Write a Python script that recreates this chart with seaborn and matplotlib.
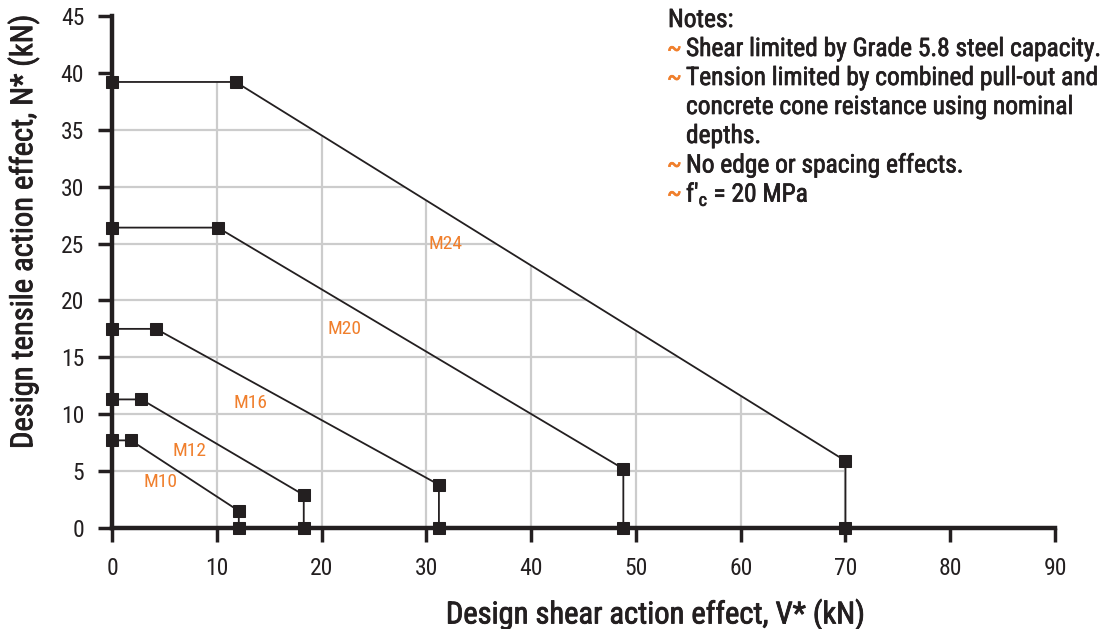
import matplotlib
matplotlib.use("Agg")
import matplotlib.pyplot as plt
import matplotlib.patheffects as pe
import seaborn as sns
import pandas as pd
from matplotlib.patches import Polygon

sns.set_theme(style="white")
FONT = ['Roboto Condensed', 'DejaVu Sans']
plt.rcParams['font.family'] = FONT
plt.rcParams['mathtext.fontset'] = 'custom'
plt.rcParams['mathtext.rm'] = 'Roboto Condensed'

# Data (kN)
sizes = ["M10", "M12", "M16", "M20", "M24"]
v_knee = [1.8, 2.8, 4.2, 10.1, 11.8]       # shear at end of tension plateau
n_plateau = [7.7, 11.3, 17.5, 26.4, 39.2]  # tension capacity
v_max = [12.1, 18.3, 31.2, 48.8, 70.0]     # shear capacity
n_at_vmax = [1.5, 2.9, 3.8, 5.2, 5.9]      # tension at shear capacity
label_x = [4.6, 7.4, 13.2, 22.2, 31.8]
label_y = [4.0, 6.8, 11.0, 17.5, 25.0]

x_ticks = [0, 10, 20, 30, 40, 50, 60, 70, 80, 90]
y_ticks = [0, 5, 10, 15, 20, 25, 30, 35, 40, 45]

notes = [
    ("~", "Shear limited by Grade 5.8 steel capacity."),
    ("~", "Tension limited by combined pull-out and"),
    ("", "concrete cone reistance using nominal"),
    ("", "depths."),
    ("~", "No edge or spacing effects."),
    ("~", r"f'$_\mathregular{c}$ = 20 MPa"),
]

ORANGE = "#F07F2C"
DARK = "#231F20"


def heavy(color, w=0.6):
    return [pe.withStroke(linewidth=w, foreground=color)]


fig = plt.figure(figsize=(11.2, 6.29), dpi=100)
ax = fig.add_axes([0.1, 0.1606, 0.842, 0.814])

rows = []
for s, vk, npl, vm, nv in zip(sizes, v_knee, n_plateau, v_max, n_at_vmax):
    for i, (vx, ny) in enumerate([(0, npl), (vk, npl), (vm, nv), (vm, 0)]):
        rows.append({"size": s, "order": i, "V": vx, "N": ny})
df = pd.DataFrame(rows)

for s in sizes:
    sub = df[df["size"] == s]
    sns.lineplot(data=sub, x="V", y="N", sort=False, estimator=None, ax=ax,
                 color=DARK, linewidth=1.3, marker="s", markersize=8.5,
                 markeredgecolor=DARK, markerfacecolor=DARK, clip_on=False, zorder=5)

for s, lx, ly in zip(sizes, label_x, label_y):
    ax.text(lx, ly, s, color=ORANGE, fontsize=14, ha="center", va="center")

ax.set_xlim(0, 90)
ax.set_ylim(0, 45)
ax.set_xticks(x_ticks)
ax.set_yticks(y_ticks)
ax.tick_params(axis="both", which="major", direction="out", length=10, width=2.5,
               color=DARK, labelsize=17, labelcolor=DARK,
               left=True, bottom=True)
ax.tick_params(axis="y", pad=10)
ax.tick_params(axis="x", pad=11)

# grid clipped to largest envelope
big = df[df["size"] == sizes[-1]]
poly_pts = [(0, 0)] + list(zip(big["V"], big["N"]))
clip = Polygon(poly_pts, closed=True, transform=ax.transData, facecolor="none", edgecolor="none")
ax.add_patch(clip)
ax.grid(True, color="#CCCCCC", linewidth=1.6)
ax.set_axisbelow(True)
for gl in ax.get_xgridlines() + ax.get_ygridlines():
    gl.set_clip_path(clip)

for side in ["top", "right"]:
    ax.spines[side].set_visible(False)
for side in ["left", "bottom"]:
    ax.spines[side].set_linewidth(3.2)
    ax.spines[side].set_color(DARK)

ax.set_xlabel("Design shear action effect, V* (kN)", fontsize=22, color=DARK,
              path_effects=heavy(DARK, 0.6))
ax.xaxis.set_label_coords(0.576, -0.137)
ax.set_ylabel("Design tensile action effect, N* (kN)", fontsize=22, color=DARK,
              path_effects=heavy(DARK, 0.6))
ax.yaxis.set_label_coords(-0.077, 0.578)

# Notes
fig.text(668/1120, 1 - 20/629, "Notes:", fontsize=18.3, color=DARK, va="center", ha="left",
         path_effects=heavy(DARK, 0.5))
y = 20
for tilde, txt in notes:
    y += 29
    if tilde:
        fig.text(667/1120, 1 - y/629, tilde, fontsize=18, color=ORANGE, va="center", ha="left",
                 path_effects=heavy(ORANGE, 0.5))
    fig.text(686/1120, 1 - y/629, txt, fontsize=18.3, color=DARK, va="center", ha="left",
             path_effects=heavy(DARK, 0.5))

fig.savefig("out.png", dpi=100)
